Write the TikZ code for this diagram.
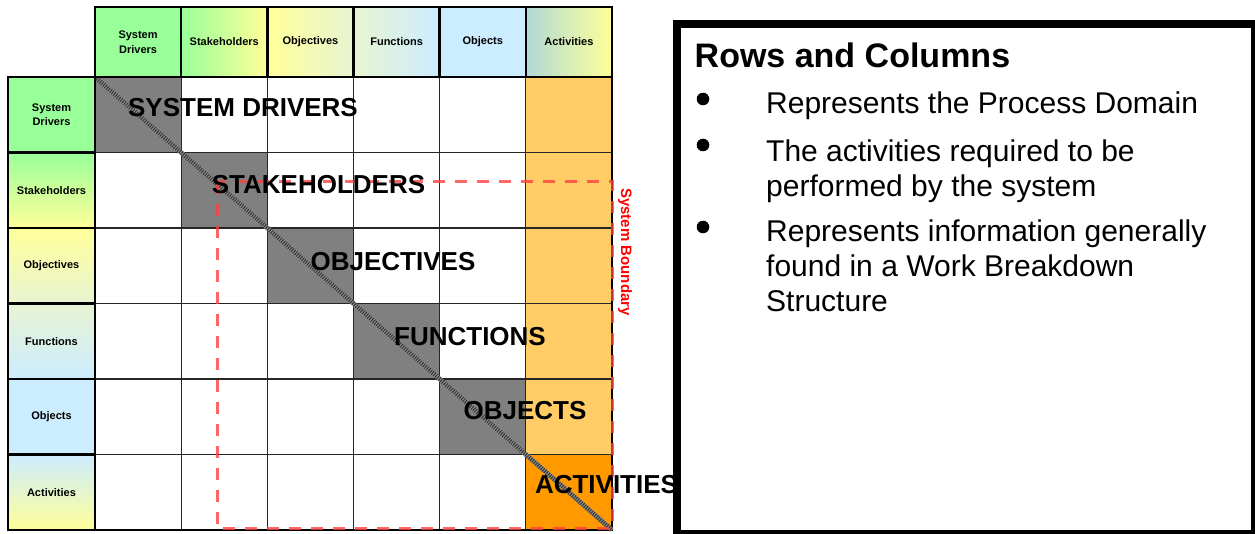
\documentclass[tikz,border=0pt]{standalone}
\usepackage{fontspec}
\setmainfont{Liberation Sans}
\definecolor{cgreen}{HTML}{99FF99}
\definecolor{cyellow}{HTML}{FFFF99}
\definecolor{cpale}{HTML}{E8F4D2}
\definecolor{cblue}{HTML}{CCECFF}
\definecolor{cteal}{HTML}{B0DAD6}
\definecolor{corange}{HTML}{FF9900}
\definecolor{clorange}{HTML}{FFCC66}
\definecolor{cgray}{HTML}{808080}
\definecolor{cred}{HTML}{FF4040}
\definecolor{ctextred}{HTML}{FF0000}
\begin{document}
\begin{tikzpicture}[x=1pt,y=-1pt,
  colhdr/.style={draw=black, line width=2.5pt, minimum width=86.17pt, minimum height=70pt,
    inner sep=0pt, align=center, font=\fontsize{11}{14.5}\selectfont\bfseries},
  rowhdr/.style={draw=black, line width=2.5pt, minimum width=87pt, minimum height=75.5pt,
    inner sep=0pt, align=center, font=\fontsize{11}{14.5}\selectfont\bfseries},
  gridline/.style={draw=black!85, line width=1.1pt},
  biglabel/.style={anchor=base, inner sep=0pt, font=\fontsize{26}{30}\selectfont\bfseries},
  boundary/.style={draw=cred, draw opacity=0.8, line width=3pt, dash pattern=on 12pt off 10pt},
  bodytext/.style={anchor=base west, inner sep=0pt, font=\fontsize{30}{35}\selectfont},
]
\useasboundingbox (0,0) rectangle (1255,534);
\fill[white] (0,0) rectangle (1255,534);

% matrix body
\fill[white] (95,77) rectangle (612,530);
\fill[clorange] (525.83,77) rectangle (612,454.5);
\fill[cgray] (95,77) rectangle (181.17,152.5);
\fill[cgray] (181.17,152.5) rectangle (267.33,228);
\fill[cgray] (267.33,228) rectangle (353.5,303.5);
\fill[cgray] (353.5,303.5) rectangle (439.67,379);
\fill[cgray] (439.67,379) rectangle (525.83,454.5);
\fill[corange] (525.83,454.5) rectangle (612,530);
\foreach \x in {181.17,267.33,353.5,439.67,525.83} \draw[gridline] (\x,77) -- (\x,530);
\foreach \y in {152.5,228,303.5,379,454.5} \draw[gridline] (95,\y) -- (612,\y);
\draw[line width=2.5pt] (612,77) -- (612,530) -- (95,530);

% diagonal
\draw[line width=4.5pt, black!45] (95,77) -- (612,530);
\draw[line width=4.5pt, black!80, dash pattern=on 1pt off 1.3pt] (95,77) -- (612,530);

% system boundary
\draw[boundary] (217,182) rectangle (612,528);

% column headers
\node[colhdr, fill=cgreen] (hc1) at (138.08,42) {System\\Drivers};
\node[colhdr, left color=cgreen, right color=cyellow] (hc2) at (224.25,42) {Stakeholders};
\node[colhdr, left color=cyellow, right color=cpale] (hc3) at (310.42,42) {Objectives};
\node[colhdr, left color=cpale, right color=cblue] (hc4) at (396.58,42) {Functions};
\node[colhdr, fill=cblue] (hc5) at (482.75,42) {Objects};
\node[colhdr, left color=cteal, right color=cyellow] (hc6) at (568.92,42) {Activities};

% row headers
\node[rowhdr, fill=cgreen] (hr1) at (51.5,114.75) {System\\Drivers};
\node[rowhdr, top color=cgreen, bottom color=cyellow] (hr2) at (51.5,190.25) {Stakeholders};
\node[rowhdr, top color=cyellow, bottom color=cpale] (hr3) at (51.5,265.75) {Objectives};
\node[rowhdr, top color=cpale, bottom color=cblue] (hr4) at (51.5,341.25) {Functions};
\node[rowhdr, fill=cblue] (hr5) at (51.5,416.75) {Objects};
\node[rowhdr, top color=cblue, bottom color=cyellow] (hr6) at (51.5,492.25) {Activities};

% diagonal labels
\node[biglabel] (l1) at (243,117) {SYSTEM DRIVERS};
\node[biglabel] (l2) at (318.5,194) {STAKEHOLDERS};
\node[biglabel] (l3) at (393,271) {OBJECTIVES};
\node[biglabel] (l4) at (470,345) {FUNCTIONS};
\node[biglabel] (l5) at (525,419) {OBJECTS};
\node[biglabel] (l6) at (606.5,493) {ACTIVITIES};

\node[rotate=-90, anchor=base, inner sep=0pt, text=ctextred,
  font=\fontsize{15}{18}\selectfont\bfseries] (sb) at (621,252) {System Boundary};

% right text box
\fill[black] (673,20) rectangle (1255,534);
\fill[white] (681,28) rectangle (1251,530);
\node[anchor=base west, inner sep=0pt, font=\fontsize{34}{40}\selectfont\bfseries] (title) at (694.5,68) {Rows and Columns};
\fill[black] (703,99) circle (6.3pt);
\fill[black] (703,145) circle (6.3pt);
\fill[black] (703,227) circle (6.3pt);
\node[bodytext] (t1) at (766,114) {Represents the Process Domain};
\node[bodytext] (t2a) at (766,162) {The activities required to be};
\node[bodytext] (t2b) at (766,197) {performed by the system};
\node[bodytext] (t3a) at (766,242) {Represents information generally};
\node[bodytext] (t3b) at (766,277) {found in a Work Breakdown};
\node[bodytext] (t3c) at (766,312) {Structure};
\end{tikzpicture}
\end{document}
